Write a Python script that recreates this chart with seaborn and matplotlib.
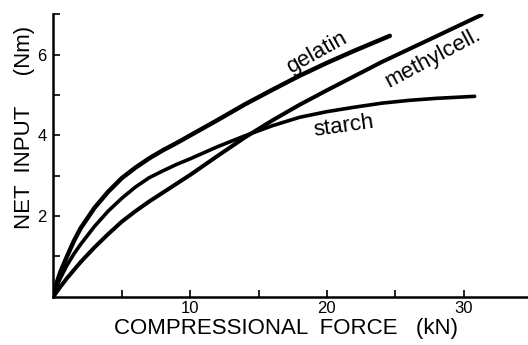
import numpy as np
import pandas as pd
import matplotlib
matplotlib.use("Agg")
import matplotlib.pyplot as plt
import seaborn as sns

# Data
gelatin_x = [0, 0.25, 0.5, 1, 1.5, 2, 3, 4, 5, 6, 7, 8, 9, 10, 12, 14, 16, 18, 20, 22, 24.6]
gelatin_y = [0, 0.35, 0.6, 1.0, 1.38, 1.7, 2.2, 2.6, 2.94, 3.2, 3.43, 3.63, 3.81, 4.0, 4.38, 4.77, 5.13, 5.48, 5.8, 6.1, 6.47]

starch_x = [0, 0.25, 0.5, 1, 1.5, 2, 3, 4, 5, 6, 7, 8, 9, 10, 12, 14, 16, 18, 20, 22, 24, 26, 28, 30.8]
starch_y = [0, 0.25, 0.45, 0.78, 1.06, 1.3, 1.74, 2.12, 2.44, 2.72, 2.95, 3.12, 3.28, 3.42, 3.72, 3.99, 4.24, 4.45, 4.59, 4.7, 4.8, 4.87, 4.92, 4.97]

methyl_x = [0, 0.5, 1, 2, 3, 4, 5, 6, 7, 8, 9, 10, 12, 14, 16, 18, 20, 22, 24, 26, 28, 31.3]
methyl_y = [0, 0.24, 0.46, 0.86, 1.22, 1.55, 1.86, 2.12, 2.36, 2.58, 2.8, 3.02, 3.49, 3.95, 4.37, 4.76, 5.12, 5.47, 5.82, 6.14, 6.46, 6.99]

x_ticks = [5, 10, 15, 20, 25, 30]
x_tick_labels = ["", "10", "", "20", "", "30"]
y_ticks = [1, 2, 3, 4, 5, 6, 7]
y_tick_labels = ["", "2", "", "4", "", "6", ""]

labels = ["gelatin", "methylcell.", "starch"]

sns.set_style("ticks")
plt.rcParams["font.family"] = ["Liberation Sans", "DejaVu Sans"]
plt.rcParams["text.color"] = "black"
plt.rcParams["axes.labelcolor"] = "black"
plt.rcParams["xtick.color"] = "black"
plt.rcParams["ytick.color"] = "black"

fig = plt.figure(figsize=(5.28, 3.45), dpi=100)
ax = fig.add_axes([0.101, 0.140, 0.899, 0.818])

sns.lineplot(x=gelatin_x, y=gelatin_y, ax=ax, color="black", linewidth=3.2, sort=False, estimator=None)
sns.lineplot(x=methyl_x, y=methyl_y, ax=ax, color="black", linewidth=2.9, sort=False, estimator=None)
sns.lineplot(x=starch_x, y=starch_y, ax=ax, color="black", linewidth=2.6, sort=False, estimator=None)

ax.set_xlim(0, 34.7)
ax.set_ylim(0, 7.0)
ax.set_xticks(x_ticks)
ax.set_xticklabels(x_tick_labels)
ax.set_yticks(y_ticks)
ax.set_yticklabels(y_tick_labels)
ax.tick_params(direction="in", length=5, width=1.2, labelsize=12, colors="black", pad=5)
ax.tick_params(axis="x", pad=3)

for side in ["top", "right"]:
    ax.spines[side].set_visible(False)
for side in ["left", "bottom"]:
    ax.spines[side].set_linewidth(1.8)
    ax.spines[side].set_color("black")

ax.set_xlabel("COMPRESSIONAL  FORCE   (kN)", fontsize=16)
ax.set_ylabel("NET  INPUT     (Nm)", fontsize=16)
ax.xaxis.set_label_coords(0.49, -0.075)
ax.yaxis.set_label_coords(-0.038, 0.60)

ax.text(19.3, 6.05, labels[0], rotation=29, fontsize=16, ha="center", va="center")
ax.text(27.8, 5.92, labels[1], rotation=28, fontsize=16, ha="center", va="center")
ax.text(21.2, 4.22, labels[2], rotation=8, fontsize=16, ha="center", va="center")

fig.savefig("out.png", dpi=100)
